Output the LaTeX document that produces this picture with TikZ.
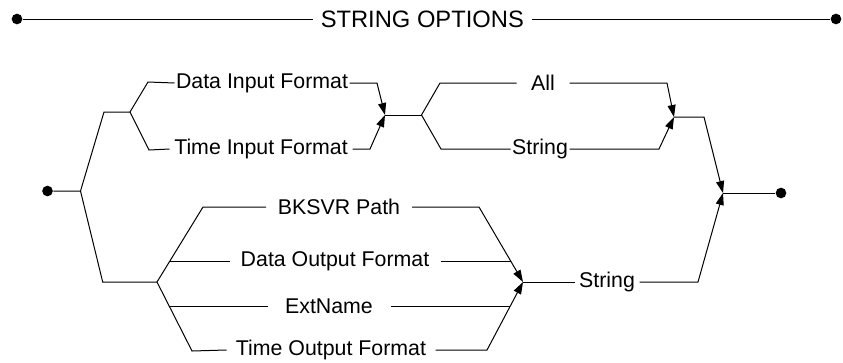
\documentclass[tikz,border=0pt]{standalone}
\usepackage{fontspec}
\setmainfont{Liberation Sans}
\usetikzlibrary{arrows.meta,calc}

\begin{document}
\begin{tikzpicture}[
    x=0.75pt, y=-0.75pt,
    line width=0.75pt,
    lbl/.style={font=\fontsize{16}{19}\selectfont, inner xsep=0pt, inner ysep=2pt},
    lblw/.style={lbl, minimum width=#1*0.75pt},
    dotend/.style={circle, fill=black, inner sep=0pt, minimum size=8pt},
    arr/.style={-{Triangle[length=9pt, width=6pt]}},
]
    \useasboundingbox (0,0) rectangle (843,362);

    % title line
    \node[dotend] (tl) at (17,19) {};
    \node[dotend] (tr) at (836,19) {};
    \node[lblw=218, font=\fontsize{17.8}{21}\selectfont] (title) at (422.3,19) {STRING OPTIONS};
    \draw (tl) -- (title.west);
    \draw (title.east) -- (tr);

    % entry and upper branch
    \node[dotend] (start) at (47.5,191) {};
    \coordinate (f0) at (80.5,191);
    \coordinate (f0a) at (104,112);
    \coordinate (f1) at (130,112);
    \coordinate (f1a) at (148,82);
    \coordinate (f1b) at (149,150);
    \node[lblw=174] (dif) at (262,83) {Data Input Format};
    \node[lblw=182] (tif) at (261,149) {Time Input Format};
    \coordinate (dif1) at (377,83);
    \coordinate (tif1) at (370,149);
    \coordinate (m1) at (385,115);
    \coordinate (f2) at (421.5,115);
    \coordinate (f2a) at (440,83);
    \coordinate (f2b) at (441,149);
    \node[lblw=52] (all) at (543,83) {All};
    \node[lblw=58] (str1) at (540,149) {String};
    \coordinate (all1) at (667,83);
    \coordinate (str11) at (659,149);
    \coordinate (m2) at (674,117);
    \coordinate (m21) at (704,117);
    \coordinate (m4) at (723,193);
    \node[dotend] (stop) at (781,193) {};

    \draw (start) -- (f0) -- (f0a) -- (f1);
    \draw (dif.west) -- (f1a) -- (f1) -- (f1b) -- (tif.west);
    \draw[arr] (dif.east) -- (dif1) -- (m1);
    \draw[arr] (tif.east) -- (tif1) -- (m1);
    \draw (m1) -- (f2);
    \draw (all.west) -- (f2a) -- (f2) -- (f2b) -- (str1.west);
    \draw[arr] (all.east) -- (all1) -- (m2);
    \draw[arr] (str1.east) -- (str11) -- (m2);
    \draw[arr] (m2) -- (m21) -- (m4);
    \draw (m4) -- (stop);

    % lower branch
    \coordinate (f0b) at (102.7,282);
    \coordinate (f3) at (157,282);
    \coordinate (f3a) at (203,207);
    \coordinate (f3b) at (192,351);
    \node[lblw=145] (bks) at (339,207) {BKSVR Path};
    \node[lblw=210] (dof) at (335,261) {Data Output Format};
    \node[lblw=122] (ext) at (329,306) {ExtName};
    \node[lblw=208] (tof) at (331,350) {Time Output Format};
    \coordinate (bks1) at (479,207);
    \coordinate (tof1) at (487,350);
    \coordinate (m3) at (523,282);
    \node[lblw=64] (str2) at (607,282) {String};
    \coordinate (str21) at (698,282);
    \coordinate (dofa) at ($(f3)!0.28!(f3a)$);
    \coordinate (exta) at ($(f3)!0.35!(f3b)$);
    \coordinate (dofb) at ($(bks1)!0.72!(m3)$);
    \coordinate (extb) at ($(tof1)!0.647!(m3)$);

    \draw (f0) -- (f0b) -- (f3);
    \draw (bks.west) -- (f3a) -- (f3) -- (f3b) -- (tof.west);
    \draw (dofa |- dof) -- (dof.west);
    \draw (exta |- ext) -- (ext.west);
    \draw[arr] (bks.east) -- (bks1) -- (m3);
    \draw[arr] (tof.east) -- (tof1) -- (m3);
    \draw (dof.east) -- (dofb |- dof);
    \draw (ext.east) -- (extb |- ext);
    \draw (m3) -- (str2.west);
    \draw[arr] (str2.east) -- (str21) -- (m4);
\end{tikzpicture}
\end{document}
